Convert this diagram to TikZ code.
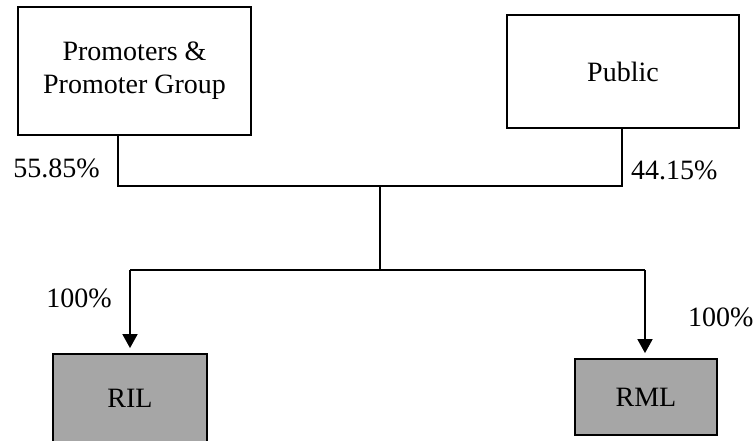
\documentclass[tikz,border=0pt]{standalone}
\usepackage{fontspec}
\setmainfont{Liberation Serif}
\usetikzlibrary{arrows.meta}

\tikzset{
  holder/.style={draw=black, line width=1.8pt, inner sep=0pt, align=center,
    font=\fontsize{28}{33}\selectfont},
  company/.style={holder, fill=black!35},
  pct/.style={inner sep=0pt, font=\fontsize{28}{33}\selectfont},
  link/.style={line width=1.8pt},
  feed/.style={link, -{Triangle[width=15pt,length=14pt]}, shorten >=5pt}
}

\begin{document}
\begin{tikzpicture}[x=1pt,y=-1pt]

                \clip (0,0) rectangle (755,441);

                \node[holder, minimum width=233pt, minimum height=128pt] (prom) at (134.5,71) {Promoters \&\\Promoter Group};
                \node[holder, minimum width=232pt, minimum height=113pt] (pub) at (623,71.5) {Public};
                \node[company, minimum width=154pt, minimum height=88pt] (ril) at (130,398) {RIL};
                \node[company, minimum width=142pt, minimum height=76pt] (rml) at (646,397) {RML};

                \coordinate (pj) at (118,186);
                \coordinate (uj) at (622,186);
                \coordinate (mid) at (380,186);
                \coordinate (low) at (380,270);
                \coordinate (lj) at (130,270);
                \coordinate (rj) at (645,270);

                \draw[link] (prom.south -| pj) -- (pj) -- (uj) -- (pub.south -| uj);
                \draw[link] (mid) -- (low);
                \draw[link] (lj) -- (rj);
                \draw[feed] (lj) -- (ril.north);
                \draw[feed] (rj) -- (rml.north -| rj);

                \node[pct, anchor=base east] (p1) at (100,177.5) {55.85\%};
                \node[pct, anchor=base west] (p2) at (631,179.5) {44.15\%};
                \node[pct, anchor=base east] (p3) at (112,307.5) {100\%};
                \node[pct, anchor=base west] (p4) at (688,326.5) {100\%};

            \end{tikzpicture}
\end{document}
